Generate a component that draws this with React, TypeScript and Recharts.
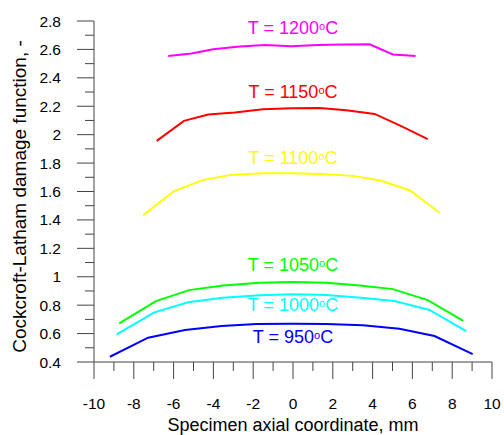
import { LineChart, Line, XAxis, YAxis, ReferenceDot, Label } from "recharts";

const xTicks = [-10, -9, -8, -7, -6, -5, -4, -3, -2, -1, 0, 1, 2, 3, 4, 5, 6, 7, 8, 9, 10];
const yTicks = [0.4, 0.5, 0.6, 0.7, 0.8, 0.9, 1, 1.1, 1.2, 1.3, 1.4, 1.5, 1.6, 1.7, 1.8, 1.9, 2, 2.1, 2.2, 2.3, 2.4, 2.5, 2.6, 2.7, 2.8];

const x1200 = [-6.27, -5.1, -4.01, -2.67, -1.42, -0.08, 1.25, 2.51, 3.85, 5.02, 6.16];
const y1200 = [2.554, 2.571, 2.601, 2.62, 2.631, 2.622, 2.631, 2.634, 2.636, 2.564, 2.554];

const x1150 = [-6.85, -5.48, -4.26, -2.93, -1.51, -0.08, 1.34, 2.68, 4.1, 5.44, 6.77];
const y1150 = [1.956, 2.097, 2.142, 2.156, 2.179, 2.186, 2.188, 2.172, 2.146, 2.06, 1.968];

const x1100 = [-7.53, -5.97, -4.55, -3.13, -1.51, -0.08, 1.42, 3.01, 4.43, 5.89, 7.36];
const y1100 = [1.434, 1.603, 1.68, 1.717, 1.729, 1.729, 1.724, 1.71, 1.675, 1.607, 1.45];

const x1050 = [-8.73, -6.89, -5.22, -3.51, -1.67, -0.08, 1.68, 3.35, 5.02, 6.77, 8.56];
const y1050 = [0.672, 0.829, 0.906, 0.939, 0.958, 0.963, 0.958, 0.939, 0.913, 0.836, 0.69];

const x1000 = [-8.86, -6.97, -5.27, -3.54, -1.67, 0, 1.68, 3.43, 5.1, 6.86, 8.7];
const y1000 = [0.595, 0.749, 0.82, 0.852, 0.869, 0.876, 0.871, 0.852, 0.829, 0.766, 0.618];

const x950 = [-9.2, -7.28, -5.43, -3.59, -1.84, 0, 1.68, 3.51, 5.35, 7.11, 9.03];
const y950 = [0.437, 0.571, 0.625, 0.653, 0.667, 0.669, 0.667, 0.658, 0.634, 0.583, 0.456];

const temps = ["1200", "1150", "1100", "1050", "1000", "950"];
const labelY = [2.75, 2.3, 1.835, 1.082, 0.801, 0.576];
const colors = ["#ff00ff", "#ff0000", "#ffff00", "#00ff00", "#00ffff", "#0000ff"];

const toPoints = (xs: number[], ys: number[]) => xs.map((x, i) => ({ x, y: ys[i] }));

const series = [
  toPoints(x1200, y1200),
  toPoints(x1150, y1150),
  toPoints(x1100, y1100),
  toPoints(x1050, y1050),
  toPoints(x1000, y1000),
  toPoints(x950, y950),
];

const axisColor = "#444";
const font = "Arial, 'Liberation Sans', sans-serif";

const isMajor = (v: number, step: number) => Math.abs(v / step - Math.round(v / step)) < 1e-6;

function YTick(props: any) {
  const { x, y, payload } = props;
  const major = isMajor(payload.value, 0.2);
  return (
    <g>
      <line x1={x - (major ? 17 : 9)} x2={x} y1={y} y2={y} stroke={axisColor} strokeWidth={1} />
      {major && (
        <text x={x - 33} y={y} dy={5.5} textAnchor="end" fontSize={15.5} fontFamily={font} fill="#000">
          {Number(payload.value.toFixed(1)).toString()}
        </text>
      )}
    </g>
  );
}

function XTick(props: any) {
  const { x, y, payload } = props;
  const major = isMajor(payload.value, 2);
  return (
    <g>
      <line x1={x} x2={x} y1={y} y2={y + (major ? 17 : 9)} stroke={axisColor} strokeWidth={1} />
      {major && (
        <text x={x} y={y + 47} textAnchor="middle" fontSize={15.5} fontFamily={font} fill="#000">
          {payload.value}
        </text>
      )}
    </g>
  );
}

function TempLabel(color: string, t: string) {
  return (props: any) => {
    const { viewBox } = props;
    const cx = viewBox.x + viewBox.width / 2;
    const cy = viewBox.y + viewBox.height / 2;
    return (
      <text x={cx} y={cy + 6} textAnchor="middle" fontSize={18} fontFamily={font} fill={color}>
        {"T = " + t}
        <tspan fontSize={11} dy={-4}>o</tspan>
        <tspan dy={4}>C</tspan>
      </text>
    );
  };
}

export default function App() {
  return (
    <div style={{ position: "absolute", left: 0, top: 0, background: "#fff" }}>
      <LineChart width={504} height={435} margin={{ top: 21, right: 12, left: 0, bottom: 0 }}>
        <XAxis
          type="number"
          dataKey="x"
          domain={[-10, 10]}
          ticks={xTicks}
          interval={0}
          allowDataOverflow
          height={73}
          stroke={axisColor}
          tickLine={false}
          tickSize={0}
          tickMargin={0}
          tick={<XTick />}
        >
          <Label
            value="Specimen axial coordinate, mm"
            position="insideBottom"
            offset={4}
            style={{ fontSize: 18, fontFamily: font, fill: "#000" }}
          />
        </XAxis>
        <YAxis
          type="number"
          dataKey="y"
          domain={[0.4, 2.8]}
          ticks={yTicks}
          interval={0}
          allowDataOverflow
          width={94}
          stroke={axisColor}
          tickLine={false}
          tickSize={0}
          tickMargin={0}
          tick={<YTick />}
        >
          <Label
            value="Cockcroft-Latham damage function, -"
            angle={-90}
            position="insideLeft"
            offset={19}
            dy={5}
            style={{ fontSize: 19, fontFamily: font, fill: "#000", textAnchor: "middle" }}
          />
        </YAxis>
        {series.map((d, i) => (
          <Line
            key={temps[i]}
            data={d}
            dataKey="y"
            type="linear"
            stroke={colors[i]}
            strokeWidth={2}
            dot={false}
            activeDot={false}
            isAnimationActive={false}
          />
        ))}
        {temps.map((t, i) => (
          <ReferenceDot
            key={"lbl" + t}
            x={0}
            y={labelY[i]}
            r={0}
            stroke="none"
            fill="none"
            label={TempLabel(colors[i], t)}
          />
        ))}
      </LineChart>
    </div>
  );
}
